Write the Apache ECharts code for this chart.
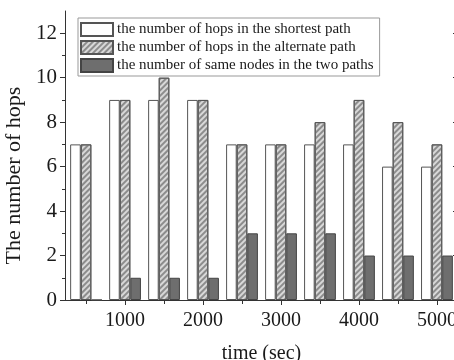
<!DOCTYPE html>
<html><head><meta charset="utf-8">
<script src="https://cdn.jsdelivr.net/npm/echarts@6/dist/echarts.min.js"></script>
<style>html,body{margin:0;padding:0;background:#fff}#c{width:454px;height:360px}</style>
</head><body><div id="c"></div>
<script>
const times = [500,1000,1500,2000,2500,3000,3500,4000,4500,5000];
const shortest = [7,9,9,9,7,7,7,7,6,6];
const alternate = [7,9,10,9,7,7,8,9,8,7];
const sameNodes = [0,1,1,1,3,3,3,2,2,2];
const xMajor = [1000,2000,3000,4000,5000];
const xMinor = [500,1500,2500,3500,4500];
const yMajor = [0,2,4,6,8,10,12];
const yMinor = [1,3,5,7,9,11];
const names = ['the number of hops in the shortest path','the number of hops in the alternate path','the number of same nodes in the two paths'];

const FONT = 'Liberation Serif';
const AX = '#333';
const X_MIN = 230, X_MAX = 5270, Y_MIN = 0, Y_MAX = 13;

function xAx(pos, ticks, len, inside, labels, line, extra) {
  return Object.assign({
    type: 'value', position: pos, min: X_MIN, max: X_MAX,
    axisLine: { show: line, lineStyle: { color: AX, width: 1 } },
    axisTick: { show: true, customValues: ticks, length: len, inside: inside, lineStyle: { color: AX, width: 1 } },
    axisLabel: labels ? { show: true, customValues: ticks, formatter: v => String(v), fontFamily: FONT, fontSize: 20, color: '#1a1a1a', margin: 11 } : { show: false },
    splitLine: { show: false }
  }, extra || {});
}
function yAx(pos, ticks, len, inside, labels, line, extra) {
  return Object.assign({
    type: 'value', position: pos, min: Y_MIN, max: Y_MAX,
    axisLine: { show: line, lineStyle: { color: AX, width: 1 } },
    axisTick: { show: true, customValues: ticks, length: len, inside: inside, lineStyle: { color: AX, width: 1 } },
    axisLabel: labels ? { show: true, customValues: ticks, formatter: v => String(v), fontFamily: FONT, fontSize: 21, color: '#1a1a1a', margin: 8 } : { show: false },
    splitLine: { show: false }
  }, extra || {});
}

const chart = echarts.init(document.getElementById('c'), null, { renderer: 'canvas' });
const pair = arr => times.map((t, i) => [t, arr[i]]);
chart.setOption({
  animation: false,
  backgroundColor: '#fff',
  grid: { left: 65, top: 11, width: 393, height: 289, containLabel: false, outerBoundsMode: 'none' },
  legend: {
    orient: 'vertical', left: 78, top: 18, z: 10,
    backgroundColor: '#fff', borderColor: '#999', borderWidth: 1,
    padding: [4, 6, 3, 2], itemGap: 3, itemWidth: 32, itemHeight: 13,
    icon: 'rect',
    textStyle: { fontFamily: FONT, fontSize: 15, color: '#1a1a1a', lineHeight: 15, padding: [0, 0, 0, -1] },
    data: names
  },
  xAxis: [
    xAx('bottom', xMajor, 4, false, true, true, {
      name: 'time (sec)', nameLocation: 'middle', nameGap: 44,
      nameTextStyle: { fontFamily: FONT, fontSize: 20, color: '#1a1a1a' }
    }),
    xAx('bottom', xMinor, 4, false, false, false),
    xAx('top', xMajor, 5, true, false, true),
    xAx('top', xMinor, 3, true, false, false)
  ],
  yAxis: [
    yAx('left', yMajor, 5, false, true, true, {
      name: 'The number of hops', nameLocation: 'middle', nameGap: 29, nameRotate: 90,
      nameTextStyle: { fontFamily: FONT, fontSize: 22, color: '#1a1a1a', padding: [0, 40, 0, 0] }
    }),
    yAx('left', yMinor, 3, false, false, false),
    yAx('right', yMajor, 5, true, false, true),
    yAx('right', yMinor, 3, true, false, false)
  ],
  series: [
    {
      name: names[0], type: 'bar', data: pair(shortest), barWidth: 10.6, barGap: '0%',
      itemStyle: { color: '#ffffff', borderColor: '#555', borderWidth: 1 }
    },
    {
      name: names[1], type: 'bar', data: pair(alternate), barWidth: 10.6, barGap: '0%',
      itemStyle: {
        color: '#d8d8d8', borderColor: '#555', borderWidth: 1,
        decal: { symbol: 'rect', symbolSize: 1, dashArrayX: [1, 0], dashArrayY: [2, 2], rotation: -Math.PI / 4, color: '#8c8c8c' }
      }
    },
    {
      name: names[2], type: 'bar', data: pair(sameNodes), barWidth: 10.6, barGap: '0%',
      itemStyle: { color: '#6e6e6e', borderColor: '#444', borderWidth: 1 }
    }
  ]
});
</script></body></html>
